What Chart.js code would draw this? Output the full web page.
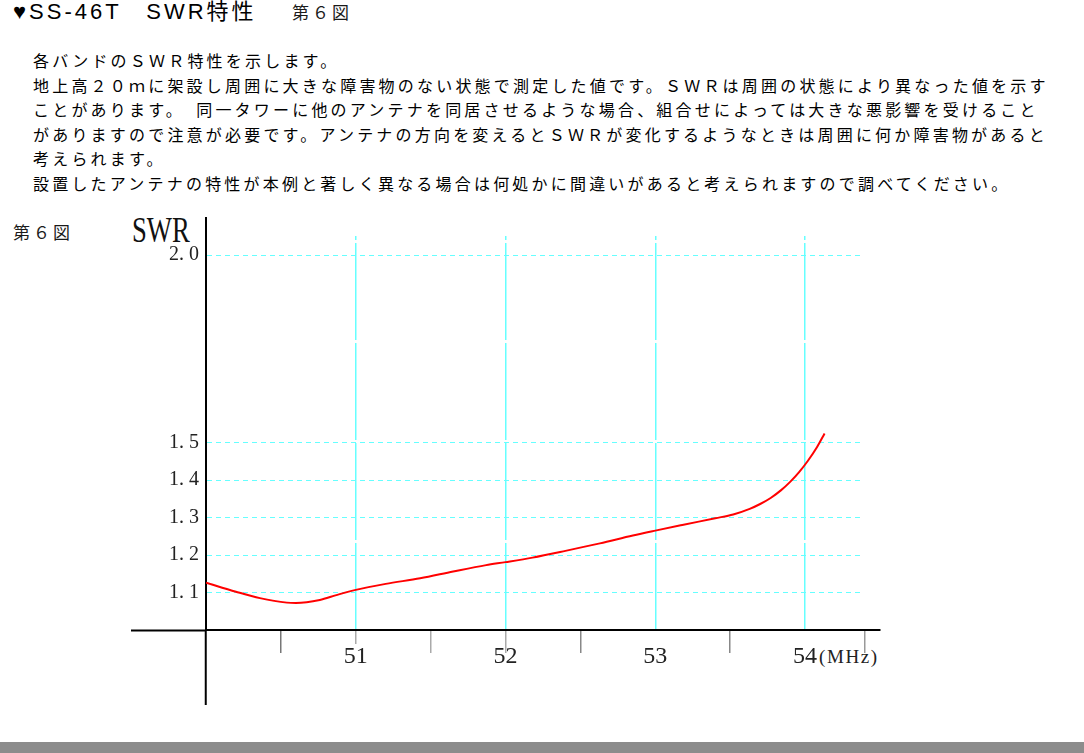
<!DOCTYPE html>
<html><head><meta charset="utf-8">
<script src="https://cdn.jsdelivr.net/npm/chart.js@4.4.1/dist/chart.umd.min.js"></script>
<style>
html,body{margin:0;padding:0;background:#fff;width:1084px;height:753px;overflow:hidden}
body{position:relative}
#c{position:absolute;left:0;top:0}
.t{position:absolute;white-space:nowrap;color:#1a1a1a;line-height:1}
.jp{font-family:"Noto Sans CJK JP","Noto Sans",sans-serif;font-size:16px;letter-spacing:3.2px}
#title{left:13px;top:1px;font-family:"Liberation Sans","DejaVu Sans","Noto Sans CJK JP",sans-serif;font-size:22px;letter-spacing:3px;color:#000}
#body{position:absolute;left:33px;top:48px;line-height:24.6px}
#body div{white-space:nowrap;height:24.6px}
#bar{position:absolute;left:0;top:742px;width:1084px;height:11px;background:#8c8c8c}
#swr{left:132px;top:212px;font-family:"Liberation Serif",serif;font-size:36px;transform:scaleX(0.74);transform-origin:0 0;color:#111}
#mhz{left:819px;top:647px;font-family:"Liberation Serif",serif;font-size:19px;letter-spacing:1.6px;color:#222}
</style></head><body>
<div class="t" id="title">♥SS-46T　SWR特性</div>
<div class="t jp" style="left:292px;top:3px;font-size:17px;letter-spacing:3px">第６図</div>
<div id="body" class="jp">
<div>各バンドのＳＷＲ特性を示します。</div>
<div>地上高２０ｍに架設し周囲に大きな障害物のない状態で測定した値です。ＳＷＲは周囲の状態により異なった値を示す</div>
<div>ことがあります。　同一タワーに他のアンテナを同居させるような場合、組合せによっては大きな悪影響を受けること</div>
<div>がありますので注意が必要です。アンテナの方向を変えるとＳＷＲが変化するようなときは周囲に何か障害物があると</div>
<div>考えられます。</div>
<div>設置したアンテナの特性が本例と著しく異なる場合は何処かに間違いがあると考えられますので調べてください。</div>
</div>
<div class="t jp" style="left:13px;top:223px;font-size:17px;letter-spacing:3px">第６図</div>
<div class="t" id="swr">SWR</div>
<div class="t" id="mhz">(MHz)</div>
<canvas id="c" width="1084" height="753"></canvas>
<div id="bar"></div>
<script>
// Data
const freqs = [50.0, 50.2, 50.36, 50.54, 50.6, 50.76, 50.87, 51.0, 51.2, 51.43, 51.65, 51.87, 52.0, 52.18, 52.4, 52.63, 52.85, 53.0, 53.18, 53.4, 53.52, 53.63, 53.70, 53.77, 53.84, 53.90, 53.96, 54.02, 54.08, 54.13];
const swrValues = [1.126, 1.102, 1.085, 1.073, 1.072, 1.080, 1.093, 1.107, 1.123, 1.138, 1.156, 1.173, 1.181, 1.193, 1.211, 1.231, 1.252, 1.265, 1.280, 1.298, 1.308, 1.323, 1.336, 1.352, 1.373, 1.395, 1.421, 1.452, 1.488, 1.524];
const xTicks = [50, 50.5, 51, 51.5, 52, 52.5, 53, 53.5, 54, 54.4];
const xTickLabels = ['', '', '51', '', '52', '', '53', '', '54', ''];
const yTicks = [1.0, 1.1, 1.2, 1.3, 1.4, 1.5, 2.0];
const yTickLabels = ['', '1. 1', '1. 2', '1. 3', '1. 4', '1. 5', '2. 0'];

const CLEAR = 'rgba(0,0,0,0)';
const CYAN = '#66ffff';
const xMajor = [false, false, true, false, true, false, true, false, true, false];
const xTickColor = ['#000', '#777', '#aaa', '#aaa', '#aaa', '#888', CLEAR, '#888', CLEAR, '#999'];
const xTickDash = [[], [22, 200], [13, 200], [22, 200], [22, 200], [22, 200], [22, 200], [22, 200], [22, 200], [22, 200]];

// horizontal dash pattern: short dashes that stop short of the right edge
const hDash = [];
for (let k = 0; k < 72; k++) hDash.push(5, 4);
hDash.push(5, 40);

new Chart(document.getElementById('c'), {
  type: 'line',
  data: {
    datasets: [{
      data: freqs.map((f, i) => ({x: f, y: swrValues[i]})),
      borderColor: '#ff0000',
      borderWidth: 2,
      pointRadius: 0,
      fill: false,
      cubicInterpolationMode: 'monotone'
    }]
  },
  options: {
    responsive: false,
    animation: false,
    events: [],
    layout: {padding: {left: 131, top: 218, right: 204, bottom: 48}},
    plugins: {legend: {display: false}, tooltip: {enabled: false}},
    scales: {
      x: {
        type: 'linear', min: 50, max: 54.5,
        afterBuildTicks: s => { s.ticks = xTicks.map(v => ({value: v})); },
        afterFit: s => { s.height = 75; },
        border: {display: true, color: '#000', width: 2,
                 dash: [4, 3, 97, 3, 97, 3, 97, 3, 120, 18], dashOffset: 427},
        grid: {
          drawOnChartArea: true, drawTicks: true, tickLength: 75,
          color: c => xMajor[c.index] ? CYAN : CLEAR,
          lineWidth: 1.5,
          tickColor: c => xTickColor[c.index],
          tickWidth: c => c.index === 0 ? 2 : 1.5,
          tickBorderDash: c => xTickDash[c.index]
        },
        ticks: {
          autoSkip: false, maxRotation: 0, minRotation: 0, padding: -63,
          color: '#222', font: {family: 'Liberation Serif', size: 24},
          callback: (v, i) => xTickLabels[i]
        }
      },
      y: {
        type: 'linear', min: 1.0, max: 2.0987,
        afterBuildTicks: s => { s.ticks = yTicks.map(v => ({value: v})); },
        afterFit: s => { s.width = 75; },
        border: {display: true, color: '#000', width: 2, dash: hDash, dashOffset: 0},
        grid: {
          drawOnChartArea: true, drawTicks: true, tickLength: 75,
          color: c => c.index === 0 ? CLEAR : CYAN,
          lineWidth: 1,
          tickColor: c => c.index === 0 ? '#000' : CLEAR,
          tickWidth: 2
        },
        ticks: {
          autoSkip: false, padding: -68,
          color: '#222', font: {family: 'Liberation Serif', size: 20},
          callback: (v, i) => yTickLabels[i]
        }
      }
    }
  }
});
</script>
</body></html>
